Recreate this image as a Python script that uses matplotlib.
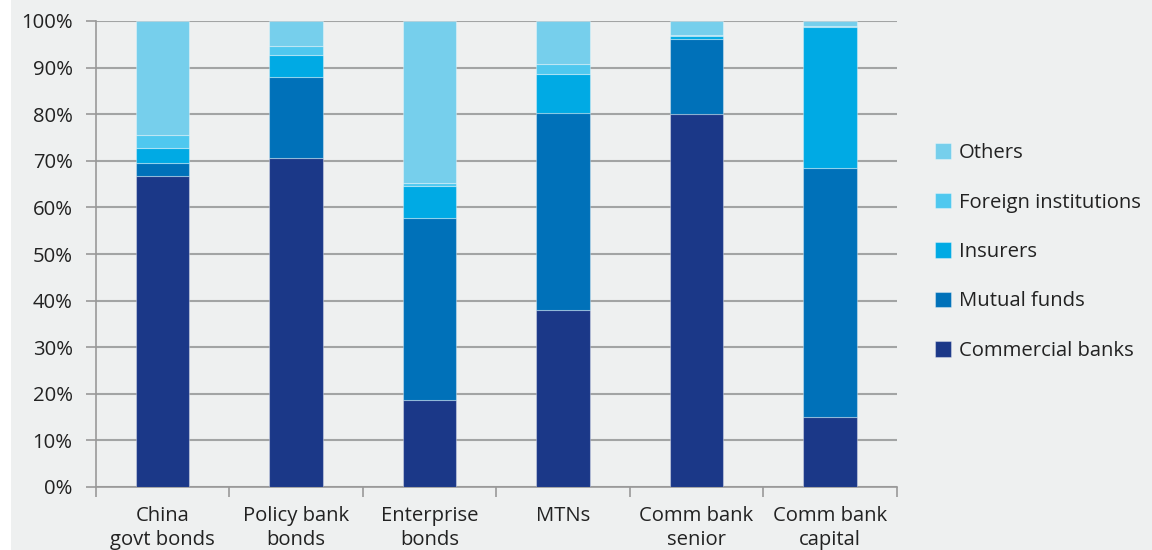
import matplotlib

matplotlib.use("Agg")
import matplotlib.pyplot as plt
import numpy as np
from matplotlib.patches import Rectangle

categories = [
    "China\ngovt bonds",
    "Policy bank\nbonds",
    "Enterprise\nbonds",
    "MTNs",
    "Comm bank\nsenior",
    "Comm bank\ncapital",
]
series_names = ["Commercial banks", "Mutual funds", "Insurers", "Foreign institutions", "Others"]
commercial_banks = [66.8, 70.5, 18.7, 38.0, 80.0, 15.0]
mutual_funds = [2.8, 17.4, 39.0, 42.3, 16.1, 53.5]
insurers = [3.2, 4.9, 6.9, 8.3, 0.7, 30.3]
foreign_inst = [2.8, 1.8, 0.6, 2.2, 0.3, 0.2]
others = [24.4, 5.4, 34.8, 9.2, 2.9, 1.0]
colors = ["#1b3888", "#0071b9", "#00aae4", "#4fc8ef", "#76cfec"]

plt.rcParams["font.family"] = ["Open Sans", "DejaVu Sans"]
bg = "#eef0f0"
fs = 14.6
fig = plt.figure(figsize=(11.52, 5.5), dpi=100, facecolor=bg)
fig.patches.append(Rectangle((0, 0), 11 / 1152, 1, transform=fig.transFigure,
                             facecolor="white", edgecolor="none"))
ax = fig.add_axes([95.5 / 1152, 1 - 487 / 550, (897 - 95.5) / 1152, (487 - 21) / 550])
ax.set_facecolor(bg)

x = np.arange(len(categories))
bottom = np.zeros(len(categories))
handles = []
for name, vals, col in zip(series_names, [commercial_banks, mutual_funds, insurers, foreign_inst, others], colors):
    h = ax.bar(x, vals, width=0.4, bottom=bottom, color=col, edgecolor=(1, 1, 1, 0.35),
               linewidth=0.8, label=name, zorder=3)
    handles.append(h)
    bottom += np.array(vals)

ax.set_xlim(-0.5, len(categories) - 0.5)
ax.set_ylim(0, 100)
ax.set_yticks(np.arange(0, 101, 10))
ax.set_yticklabels([f"{v}%" for v in range(0, 101, 10)])
ax.yaxis.grid(True, color="#a2a4a4", linewidth=1.5, zorder=0)
ax.set_axisbelow(True)

ax.set_xticks(x)
ax.set_xticklabels(categories, fontsize=fs, color="#222222", linespacing=1.27)
ax.set_xticks(np.arange(-0.5, len(categories)), minor=True)
ax.tick_params(axis="x", which="major", length=0, pad=14)
ax.tick_params(axis="x", which="minor", length=7.5, width=1.2, color="#999999")
ax.tick_params(axis="y", length=7.5, width=1.2, color="#999999", labelsize=fs,
               labelcolor="#222222", pad=9)

for side in ["top", "right"]:
    ax.spines[side].set_visible(False)
for side in ["left", "bottom"]:
    ax.spines[side].set_color("#999999")
    ax.spines[side].set_linewidth(1.2)

leg = fig.legend(handles[::-1], series_names[::-1], loc="upper left",
                 bbox_to_anchor=(917 / 1152, 1 - 125 / 550), frameon=False,
                 fontsize=fs, handlelength=0.8, handleheight=0.8, handletextpad=0.35,
                 labelspacing=1.45, labelcolor="#222222")

fig.savefig("out.png", dpi=100, facecolor=bg)
